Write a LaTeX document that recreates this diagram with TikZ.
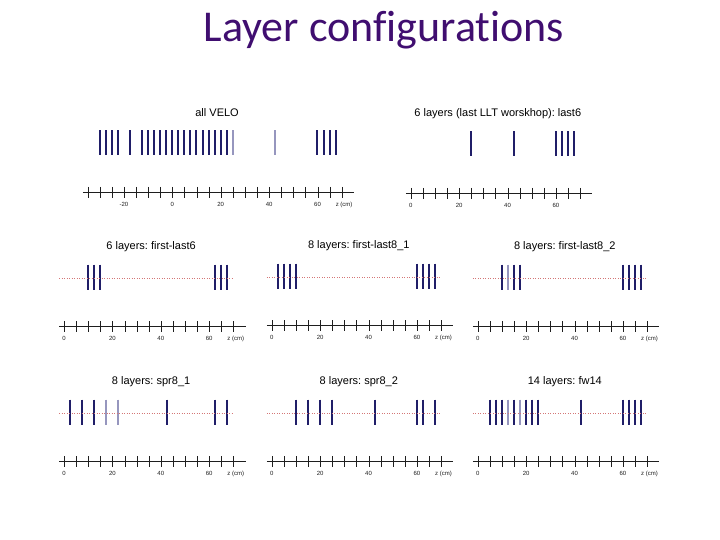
\documentclass[tikz,border=0pt]{standalone}
\usepackage{fontspec}
\setmainfont{Liberation Sans}
\newfontfamily\titlefont[RawFeature={-liga}]{Carlito}
\usetikzlibrary{positioning}
\frenchspacing
\definecolor{titlepurple}{RGB}{64,14,112}
\definecolor{layerblue}{RGB}{32,30,104}
\definecolor{layerfaint}{RGB}{150,150,190}
\definecolor{beamred}{RGB}{212,118,118}
\definecolor{axisgray}{RGB}{30,30,30}

% one panel: id, x of z=0, y of axis, title, layers, faint layers, first tick, tick labels, extras
\newcommand{\layerpanel}[9]{%
  \begin{scope}[shift={(0,#3)}]
    % layers and ticks snapped to whole pixels
    \foreach \z in {#5} {
      \pgfmathsetmacro{\lx}{round(#2+2.42*\z)}
      \draw[layer] (\lx,-62) -- (\lx,-37);
    }
    \foreach \z in {#6} {
      \pgfmathsetmacro{\lx}{round(#2+2.42*\z)}
      \draw[layer, layerfaint] (\lx,-62) -- (\lx,-37);
    }
    \pgfmathtruncatemacro{\kfirst}{#7/5}
    \foreach \k in {\kfirst,...,14} {
      \pgfmathsetmacro{\tx}{round(#2+12.1*\k)+0.5}
      \draw[tickmark] (\tx,-5.5) -- (\tx,5.5);
    }
  \end{scope}
  \begin{scope}[shift={(#2,#3)}, x=2.42pt]
    #9
    \draw[axisline] (#7-2,0) -- (75,0);
    \foreach \t in {#8} \node[ticklabel] at (\t,12) {\t};
    \pgfmathsetmacro{\titlemid}{(#7+72)/2}
    \node[paneltitle] (#1) at (\titlemid,-80) {#4};
  \end{scope}}

\begin{document}
\begin{tikzpicture}[x=1pt, y=-1pt,
    layer/.style={layerblue, line width=2pt},
    axisline/.style={axisgray, line width=1pt},
    tickmark/.style={axisgray, line width=1pt},
    beam/.style={beamred, line width=0.5pt, dotted},
    ticklabel/.style={font=\fontsize{6}{7}\selectfont, text=axisgray},
    paneltitle/.style={font=\fontsize{11}{13}\selectfont, text=black}
  ]
  \useasboundingbox (0,0) rectangle (720,540);

  \node[font=\titlefont\fontsize{44}{52}\selectfont, text=titlepurple] (title) at (384,30) {Layer configurations};

  % top row
  \layerpanel{velo}{172.3}{192.5}{all VELO}
    {-30,-27.5,-25,-22.5,-17.5,-12.5,-10,-7.5,-5,-2.5,0,2.5,5,7.5,10,12.5,15,17.5,20,22.5,60,62.5,65,67.5}
    {25,42.5}{-35}{-20,0,20,40,60}
    {\node[ticklabel] (veloz) at (71,12) {z (cm)};}
  \layerpanel{last6}{410.7}{193.5}{6 layers (last LLT worskhop): last6}
    {25,42.5,60,62.5,65,67.5}{}{0}{0,20,40,60}{}

  % middle row
  \layerpanel{fl6}{64}{326.5}{6 layers: first-last6}
    {10,12.5,15,62.5,65,67.5}{}{0}{0,20,40,60}
    {\draw[beam] (-2,-48) -- (70,-48); \node[ticklabel] (flsixz) at (71,12) {z (cm)};}
  \layerpanel{fl81}{271.7}{325.5}{8 layers: first-last8\_1}
    {2.5,5,7.5,10,60,62.5,65,67.5}{}{0}{0,20,40,60}
    {\draw[beam] (-2,-48) -- (70,-48); \node[ticklabel] (fleightaz) at (71,12) {z (cm)};}
  \layerpanel{fl82}{477.7}{326.5}{8 layers: first-last8\_2}
    {10,15,17.5,60,62.5,65,67.5}{12.5}{0}{0,20,40,60}
    {\draw[beam] (-2,-48) -- (70,-48); \node[ticklabel] (fleightbz) at (71,12) {z (cm)};}

  % bottom row
  \layerpanel{spr81}{64}{461.5}{8 layers: spr8\_1}
    {2.5,7.5,12.5,42.5,62.5,67.5}{17.5,22.5}{0}{0,20,40,60}
    {\draw[beam] (-2,-48) -- (70,-48); \node[ticklabel] (spraz) at (71,12) {z (cm)};}
  \layerpanel{spr82}{271.7}{461.5}{8 layers: spr8\_2}
    {10,15,20,25,42.5,60,62.5,67.5}{}{0}{0,20,40,60}
    {\draw[beam] (-2,-48) -- (70,-48); \node[ticklabel] (sprbz) at (71,12) {z (cm)};}
  \layerpanel{fw14}{477.7}{461.5}{14 layers: fw14}
    {5,7.5,10,15,20,22.5,25,42.5,60,62.5,65,67.5}{12.5,17.5}{0}{0,20,40,60}
    {\draw[beam] (-2,-48) -- (70,-48); \node[ticklabel] (fwz) at (71,12) {z (cm)};}
\end{tikzpicture}
\end{document}
